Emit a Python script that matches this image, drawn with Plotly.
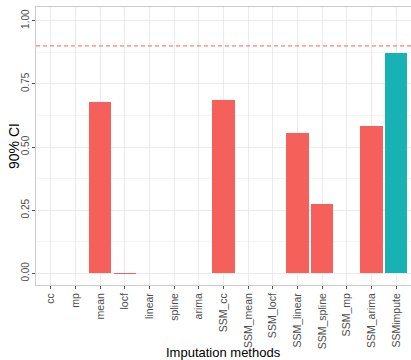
import plotly.graph_objects as go

methods = ["cc", "mp", "mean", "locf", "linear", "spline", "arima",
           "SSM_cc", "SSM_mean", "SSM_locf", "SSM_linear", "SSM_spline",
           "SSM_mp", "SSM_arima", "SSMimpute"]
coverage = [0.0, 0.0, 0.68, 0.0015, 0.0, 0.0, 0.0,
            0.686, 0.0, 0.0, 0.557, 0.274, 0.0, 0.582, 0.872]
nominal_level = 0.9
y_ticks = [0.0, 0.25, 0.5, 0.75, 1.0]
y_tick_text = ["0.00", "0.25", "0.50", "0.75", "1.00"]

RED = "#F5605B"
TEAL = "#18B2B5"
colors = [TEAL if m == "SSMimpute" else RED for m in methods]

W, H = 411, 360
ML, MR, MT, MB = 36, 0, 7, 75
PW, PH = W - ML - MR, H - MT - MB

fig = go.Figure()
fig.add_trace(go.Bar(
    x=list(range(len(methods))), y=coverage, width=0.9,
    marker=dict(color=colors, line=dict(width=0)),
    showlegend=False,
))

fig.add_shape(type="line", xref="paper", x0=0, x1=1, yref="y",
              y0=nominal_level, y1=nominal_level,
              line=dict(color=RED, width=1, dash="4px,3px"))

# axis titles placed explicitly
fig.add_annotation(text="90% CI", xref="paper", yref="paper",
                   x=(14 - ML) / PW, y=0.5, xanchor="center", yanchor="middle",
                   textangle=-90, showarrow=False,
                   font=dict(size=14, color="black"))
fig.add_annotation(text="Imputation methods", xref="paper", yref="paper",
                   x=0.5, y=-(352 - (H - MB)) / PH, xanchor="center", yanchor="middle",
                   showarrow=False, font=dict(size=13, color="black"))

fig.update_layout(
    width=W, height=H,
    margin=dict(l=ML, r=MR, t=MT, b=MB),
    paper_bgcolor="white", plot_bgcolor="white",
    font=dict(family="Liberation Sans, Arial, sans-serif", color="#4D4D4D"),
    bargap=0,
)

fig.update_xaxes(
    range=[-0.6, len(methods) - 0.4],
    tickmode="array", tickvals=list(range(len(methods))), ticktext=methods,
    tickangle=-90, tickfont=dict(size=10.5, color="#4D4D4D"),
    ticks="outside", ticklen=3, tickcolor="#555", tickwidth=1,
    showgrid=True, gridcolor="#EBEBEB", gridwidth=1,
    showline=True, linecolor="#CCCCCC", linewidth=1, mirror=True,
    zeroline=False,
    automargin=False,
)

fig.update_yaxes(
    range=[-0.046, 1.054],
    tickmode="array", tickvals=y_ticks, ticktext=y_tick_text,
    tickangle=-90, tickfont=dict(size=10, color="#4D4D4D"),
    ticklabelstandoff=-1,
    ticks="outside", ticklen=3, tickcolor="#555", tickwidth=1,
    showgrid=True, gridcolor="#EBEBEB", gridwidth=1,
    minor=dict(showgrid=True, gridcolor="#F4F4F4", gridwidth=1,
               tickmode="array", tickvals=[0.125, 0.375, 0.625, 0.875], ticks=""),
    showline=True, linecolor="#CCCCCC", linewidth=1, mirror=True,
    zeroline=False,
    automargin=False,
)

fig.write_html("out.html")
